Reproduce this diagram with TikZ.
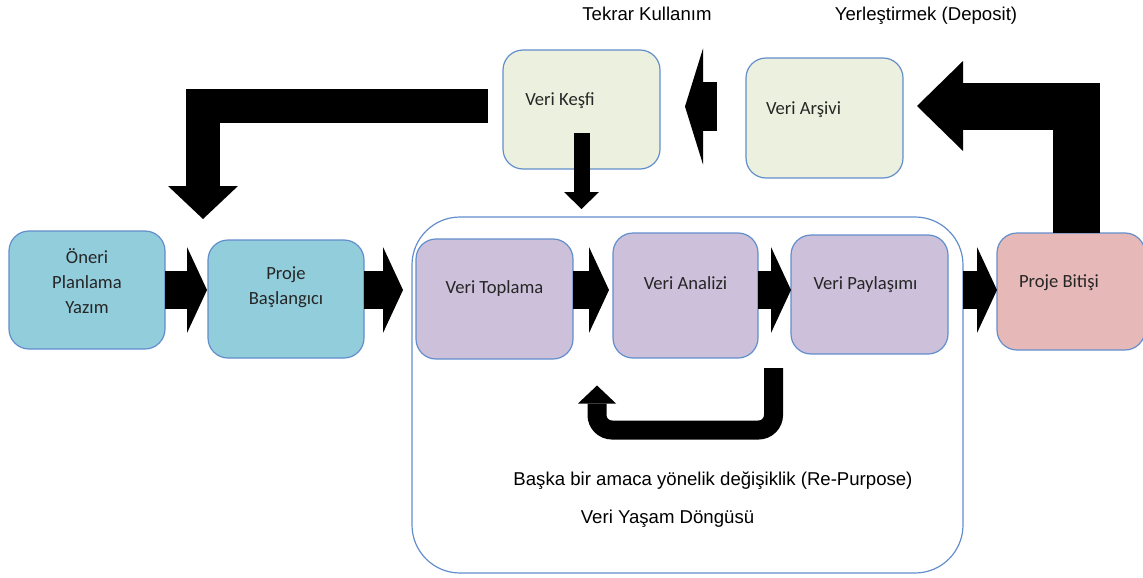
\documentclass[tikz,border=0pt]{standalone}
\usepackage{fontspec}
\setmainfont{Carlito}
\newfontfamily\arialfont{Liberation Sans}
\usepackage{tikz}
\usetikzlibrary{arrows.meta,calc}
\usetikzlibrary{positioning}

\definecolor{clrBorders}{RGB}{98,142,203}
\definecolor{clrBlue}{RGB}{146,205,220}
\definecolor{clrGreen}{RGB}{235,241,222}
\definecolor{clrPurple}{RGB}{204,192,218}
\definecolor{clrRed}{RGB}{230,185,184}
\definecolor{clrText}{RGB}{38,38,38}

\newcommand{\boxfont}{\fontsize{18.6}{25}\selectfont}
\newcommand{\lblfont}{\arialfont\fontsize{18.6}{22}\selectfont}
\newcommand{\boxtxt}[2]{\raisebox{#1}[0pt][0pt]{\begin{tabular}{@{}c@{}}#2\end{tabular}}}

\tikzstyle{box_style0}=[draw=clrBorders, line width=1.2pt, rounded corners=20pt,
inner sep=0pt, outer sep=0pt, text=clrText, font=\boxfont]
\tikzstyle{plan_box}=[box_style0, fill=clrBlue, minimum width=156pt, minimum height=118pt]
\tikzstyle{store_box}=[box_style0, fill=clrGreen, minimum width=157pt, minimum height=119pt]
\tikzstyle{data_box}=[box_style0, fill=clrPurple, minimum width=157pt, minimum height=120pt]
\tikzstyle{end_box}=[box_style0, fill=clrRed, minimum width=148pt, minimum height=117pt]
\tikzstyle{frame_box}=[draw=clrBorders, line width=1.2pt, rounded corners=48pt, outer sep=0pt,
minimum width=551pt, minimum height=356pt]
\tikzstyle{lbl_text}=[font=\lblfont, text=black, inner sep=0pt]
\tikzstyle{flow_arrow}=[line width=38pt, -{Triangle[length=20pt, width=86pt, line width=0pt]}]
\tikzstyle{drop_arrow}=[line width=16pt, -{Triangle[length=17pt, width=35pt, line width=0pt]}]
\tikzstyle{back_arrow}=[line width=49pt, -{Triangle[length=18pt, width=116pt, line width=0pt]}]
\tikzstyle{reuse_arrow}=[line width=34pt, -{Triangle[length=33pt, width=70pt, line width=0pt]}]
\tikzstyle{deposit_arrow}=[line width=47pt, -{Triangle[length=46pt, width=90pt, line width=0pt]}]
\tikzstyle{loop_arrow}=[line width=19pt, rounded corners=15pt, -{Triangle[length=18pt, width=38pt, line width=0pt]}]

\begin{document}
\begin{tikzpicture}[x=1pt, y=-1pt]
	\useasboundingbox (0,0) rectangle (1143,578);

	% cadre du cycle de vie
	\node[frame_box] (cyc) at (687.5,395) {};
	\node[lbl_text, anchor=base] (rep) at (713,485) {Başka bir amaca yönelik değişiklik (Re-Purpose)};
	\node[lbl_text, anchor=base] (life) at (667.5,523) {Veri Yaşam Döngüsü};

	\node[plan_box] (on) at (87,290) {\boxtxt{2.4pt}{Öneri\\Planlama\\Yazım}};
	\node[plan_box, right=43pt of on, yshift=-9pt] (bas) {\boxtxt{7.2pt}{Proje\\Başlangıcı}};

	\node[data_box] (top) at (494.5,299) {\boxtxt{6.4pt}{Veri Toplama}};
	\node[data_box, minimum width=145pt, minimum height=125pt, right=40pt of top, yshift=3.5pt] (ana) {\boxtxt{6.9pt}{Veri Analizi}};
	\node[data_box, minimum height=119pt, right=33pt of ana, yshift=1pt] (pay) {\boxtxt{5.9pt}{Veri Paylaşımı\kern8pt}};

	\node[end_box] (bit) at (1071,291.5) {\boxtxt{4.9pt}{Proje Bitişi\kern24pt}};

	\node[store_box] (kes) at (581.5,109.5) {\boxtxt{4.9pt}{Veri Keşfi\kern43pt}};
	\node[store_box, minimum height=120pt, right=86pt of kes, yshift=-8.5pt] (arc) {\boxtxt{4pt}{Veri Arşivi\kern42pt}};

	\node[lbl_text, anchor=base] (reu) at (647,21) {Tekrar Kullanım};
	\node[lbl_text, anchor=base] (dep) at (926,21) {Yerleştirmek (Deposit)};

	% fleches
	\draw[flow_arrow, shorten >=1pt] (on.east) -- (bas.west |- on.east);
	\draw[flow_arrow, shorten >=9pt] (bas.east |- on.east) -- (cyc.west |- on.east);
	\draw[flow_arrow, shorten >=4pt] (top.east |- on.east) -- (ana.west |- on.east);
	\draw[flow_arrow] (ana.east |- on.east) -- (pay.west |- on.east);
	\draw[flow_arrow] (cyc.east |- on.east) -- (bit.west |- on.east);

	\draw[drop_arrow, shorten >=8pt] ($(kes.south)+(0,-36)$) -- (kes.south |- cyc.north);
	\draw[back_arrow] ($(arc.west)+(-29,-11.5)$) -- ($(kes.east)+(25,-3)$);
	\draw[reuse_arrow] ($(kes.west)+(-15,-4)$) -| ($(bas.north)+(-83,-21)$);
	\draw[deposit_arrow] ($(bit.north)+(5.5,0)$) |- ($(arc.east)+(14,-12)$);

	\draw[loop_arrow] ($(ana.south east)!.5!(pay.south west)+(-1,12)$) -- ++(0,62)
		-| ($(top.south east)!.5!(ana.south west)+(4,27)$);

\end{tikzpicture}
\end{document}
